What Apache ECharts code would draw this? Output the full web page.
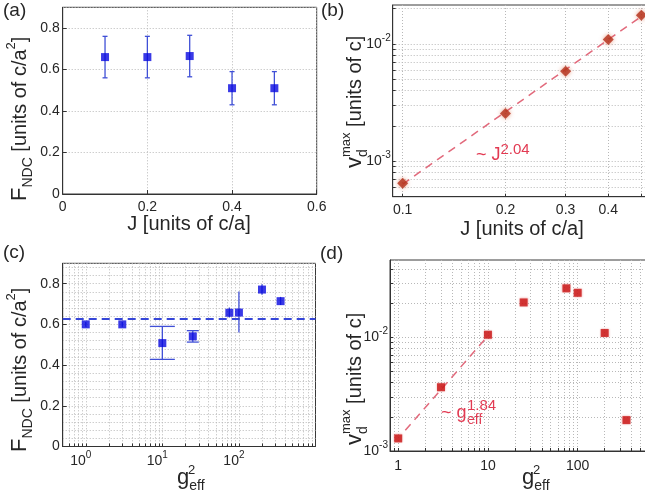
<!DOCTYPE html>
<html><head><meta charset="utf-8">
<script src="https://cdn.jsdelivr.net/npm/echarts@6/dist/echarts.min.js"></script>
<style>html,body{margin:0;padding:0;background:#fff}#c{width:645px;height:498px}</style>
</head><body><div id="c"></div>
<script>
// ---------- data ----------
// (a) F_NDC vs J
const aJ  = [0.1, 0.2, 0.3, 0.4, 0.5];
const aF  = [0.66, 0.66, 0.665, 0.51, 0.51];
const aLo = [0.56, 0.56, 0.565, 0.43, 0.43];
const aHi = [0.76, 0.76, 0.765, 0.59, 0.59];
// (b) v_d^max vs J (log-log)
const bJ = [0.1, 0.2, 0.3, 0.4, 0.5];
const bV = [6.5e-4, 2.56e-3, 5.87e-3, 0.0109, 0.0176];
const bFitJ = [0.1, 0.5];
const bFitV = [6.4e-4, 0.0172];
// (c) F_NDC vs g_eff^2
const cG  = [1, 3, 10, 25, 75, 100, 200, 350];
const cF  = [0.600, 0.600, 0.508, 0.541, 0.657, 0.658, 0.771, 0.714];
const cLo = [0.588, 0.588, 0.428, 0.513, 0.634, 0.560, 0.745, 0.695];
const cHi = [0.612, 0.612, 0.590, 0.569, 0.683, 0.761, 0.797, 0.735];
const cMean = 0.633;
// (d) v_d^max vs g_eff^2
const dG = [1, 3, 10, 25, 75, 100, 200, 350];
const dV = [1.29e-3, 3.64e-3, 0.01056, 0.0203, 0.0270, 0.0247, 0.01094, 1.87e-3];
const dFitG = [1.2, 10];
const dFitV = [1.52e-3, 0.0103];
// tick labels
const aXTicks = [0, 0.2, 0.4, 0.6];
const aYTicks = [0, 0.2, 0.4, 0.6, 0.8];
const bXLabels = [0.1, 0.2, 0.3, 0.4];
const bYLabels = [1e-3, 1e-2];
const cXLabels = [1, 10, 100];
const dXLabels = [1, 10, 100];
const dYLabels = [1e-3, 1e-2];

// ---------- styles ----------
const FONT = 'Liberation Sans';
const TXT = '#262626';
const GRIDC = '#b8b8b8';
const BLUE = '#0808e0';
const BLUE_ERR = '#3f4fd6';
const REDDASH = '#e26a7c';
const ANNO = '#e23a52';

function gridVals(lo, hi) {
  const out = [];
  for (let k = Math.floor(Math.log10(lo)) - 1; k <= Math.ceil(Math.log10(hi)); k++) {
    for (let m = 1; m <= 9; m++) {
      const v = +(m * Math.pow(10, k)).toPrecision(6);
      if (v >= lo * 1.0001 && v <= hi * 0.9999) out.push(v);
    }
  }
  return out;
}
const richTick = {
  b: {fontFamily: FONT, fontSize: 14, lineHeight: 22, color: TXT},
  s: {fontFamily: FONT, fontSize: 10, lineHeight: 12, verticalAlign: 'top', color: TXT}
};
const pow10 = v => '{b|10}{s|' + Math.round(Math.log10(v)) + '}';

const splitLine = {show: true, lineStyle: {color: GRIDC, type: [1, 2], width: 1}};
const axisLine = {show: true, lineStyle: {color: '#333', width: 1}};

function linAxis(gi, min, max, interval, extra) {
  return Object.assign({
    type: 'value', gridIndex: gi, min, max, interval,
    axisLine, splitLine,
    axisTick: {show: true, inside: true, length: 4, lineStyle: {color: '#333'}},
    axisLabel: {fontFamily: FONT, fontSize: 14, color: TXT, margin: 6, showMaxLabel: false},
  }, extra || {});
}
function logAxis(gi, min, max, labels, fmt, labelExtra) {
  return {
    type: 'log', logBase: 10, gridIndex: gi, min, max,
    axisLine, splitLine,
    axisTick: {show: true, inside: true, length: 3, customValues: gridVals(min, max), lineStyle: {color: '#333'}},
    axisLabel: Object.assign({customValues: labels, formatter: fmt, rich: richTick,
      fontFamily: FONT, fontSize: 14, color: TXT}, labelExtra || {}),
    minorTick: {show: false}, minorSplitLine: {show: false}
  };
}
function errBars(xi, xs, lo, hi, caps, color) {
  return {
    type: 'custom', xAxisIndex: xi, yAxisIndex: xi, z: 3, silent: true,
    data: xs.map((x, i) => [x, lo[i], hi[i]]),
    renderItem: (params, api) => {
      const x = api.value(0);
      const p1 = api.coord([x, api.value(1)]);
      const p2 = api.coord([x, api.value(2)]);
      const c = caps[params.dataIndex];
      const st = {stroke: color, lineWidth: 1.3};
      const ch = [{type: 'line', shape: {x1: p1[0], y1: p1[1], x2: p2[0], y2: p2[1]}, style: st}];
      if (c > 0) {
        ch.push({type: 'line', shape: {x1: p1[0] - c, y1: p1[1], x2: p1[0] + c, y2: p1[1]}, style: st});
        ch.push({type: 'line', shape: {x1: p2[0] - c, y1: p2[1], x2: p2[0] + c, y2: p2[1]}, style: st});
      }
      return {type: 'group', children: ch};
    }
  };
}
const pairs = (xs, ys) => xs.map((x, i) => [x, ys[i]]);

const gridBase = {show: true, borderColor: '#3a3a3a', borderWidth: 1, backgroundColor: '#fff', containLabel: false, outerBoundsMode: 'none'};

const richTitle = {
  B: {fontFamily: FONT, fontSize: 22, lineHeight: 30, color: TXT},
  b: {fontFamily: FONT, fontSize: 20, lineHeight: 30, color: TXT},
  sub: {fontFamily: FONT, fontSize: 14, lineHeight: 14, verticalAlign: 'bottom', color: TXT},
  sup: {fontFamily: FONT, fontSize: 13, lineHeight: 14, verticalAlign: 'top', color: TXT}
};
function txt(x, y, text, size, color, extra) {
  return {type: 'text', x, y, silent: true,
    style: Object.assign({text, fontFamily: FONT, fontSize: size, fill: color || TXT}, extra || {})};
}

const option = {
  animation: false,
  backgroundColor: '#fff',
  grid: [
    Object.assign({left: 62.7, top: 7.3, width: 254, height: 186.7}, gridBase),
    Object.assign({left: 392.7, top: 5, width: 257.3, height: 191.7}, gridBase),
    Object.assign({left: 62.7, top: 263.3, width: 252.8, height: 183.2}, gridBase),
    Object.assign({left: 390, top: 260, width: 260, height: 191}, gridBase)
  ],
  xAxis: [
    linAxis(0, 0, 0.6, 0.2, {axisLabel: {fontFamily: FONT, fontSize: 14, color: TXT, margin: 6}}),
    logAxis(1, 0.0935, 0.53, bXLabels, v => String(+v.toFixed(2)), {margin: 6}),
    logAxis(2, 0.5, 1000, cXLabels, pow10, {margin: 4, padding: [0, 10, 0, 0]}),
    logAxis(3, 0.81, 640, dXLabels, v => '{b|' + Math.round(v) + '}', {margin: 4})
  ],
  yAxis: [
    linAxis(0, 0, 0.9, 0.2, {axisLabel: {fontFamily: FONT, fontSize: 14, color: TXT, margin: 3, showMaxLabel: false}}),
    logAxis(1, 5e-4, 0.0215, bYLabels, pow10, {margin: 2}),
    linAxis(2, 0, 0.9, 0.2, {
      axisLabel: {fontFamily: FONT, fontSize: 14, color: TXT, margin: 3, showMaxLabel: false},
      minorTick: {show: false, splitNumber: 5},
      minorSplitLine: {show: true, lineStyle: {color: GRIDC, type: [1, 2], width: 1}}
    }),
    logAxis(3, 1e-3, 0.048, dYLabels, pow10, {margin: 2})
  ],
  series: [
    errBars(0, aJ, aLo, aHi, [2.5, 2.5, 2.5, 2.5, 2.5], BLUE_ERR),
    {type: 'scatter', xAxisIndex: 0, yAxisIndex: 0, symbol: 'rect', symbolSize: 8, z: 4,
      itemStyle: {color: BLUE}, data: pairs(aJ, aF)},

    {type: 'line', xAxisIndex: 1, yAxisIndex: 1, symbol: 'none', z: 2,
      lineStyle: {color: REDDASH, width: 1.5, type: [8, 6]}, data: pairs(bFitJ, bFitV)},
    {type: 'scatter', xAxisIndex: 1, yAxisIndex: 1, symbol: 'diamond', symbolSize: 11, z: 4,
      itemStyle: {color: '#b3301a', shadowBlur: 4, shadowColor: 'rgba(220,90,50,0.7)'}, data: pairs(bJ, bV)},

    errBars(2, cG, cLo, cHi, [0, 0, 12.5, 6, 0, 0, 0, 0], BLUE_ERR),
    {type: 'scatter', xAxisIndex: 2, yAxisIndex: 2, symbol: 'rect', symbolSize: 8, z: 4,
      itemStyle: {color: BLUE}, data: pairs(cG, cF),
      markLine: {silent: true, symbol: 'none', label: {show: false}, animation: false,
        lineStyle: {color: '#3646d8', width: 2, type: [8, 5]}, data: [{yAxis: cMean}]}},

    {type: 'line', xAxisIndex: 3, yAxisIndex: 3, symbol: 'none', z: 2,
      lineStyle: {color: REDDASH, width: 1.5, type: [8, 6]}, data: pairs(dFitG, dFitV)},
    {type: 'scatter', xAxisIndex: 3, yAxisIndex: 3, symbol: 'rect', symbolSize: 8, z: 4,
      itemStyle: {color: '#c81414', shadowBlur: 2, shadowColor: 'rgba(230,80,80,0.6)'}, data: pairs(dG, dV)}
  ],
  graphic: [
    // panel labels
    txt(3, 1, '(a)', 19), txt(321, 1, '(b)', 19), txt(3, 243, '(c)', 19), txt(320, 244, '(d)', 19),
    // x titles
    txt(189, 224, 'J [units of c/a]', 20, TXT, {align: 'center', verticalAlign: 'middle'}),
    txt(522, 229, 'J [units of c/a]', 20, TXT, {align: 'center', verticalAlign: 'middle'}),
    {type: 'group', x: 177, y: 478, silent: true, children: [
      txt(0, 0, '{B|g}{sub|eff}', 20, TXT, {rich: richTitle, verticalAlign: 'middle'}),
      txt(11, -8, '2', 13, TXT, {verticalAlign: 'middle'})
    ]},
    {type: 'group', x: 522, y: 478, silent: true, children: [
      txt(0, 0, '{B|g}{sub|eff}', 20, TXT, {rich: richTitle, verticalAlign: 'middle'}),
      txt(11, -8, '2', 13, TXT, {verticalAlign: 'middle'})
    ]},
    // y titles
    {type: 'group', x: 20, y: 201, rotation: Math.PI / 2, silent: true, children: [
      txt(0, 0, '{B|F}{sub|NDC}{b| [units of c/a}{sup|2}{b|]}', 20, TXT, {rich: richTitle, verticalAlign: 'middle'})
    ]},
    {type: 'group', x: 20, y: 452, rotation: Math.PI / 2, silent: true, children: [
      txt(0, 0, '{B|F}{sub|NDC}{b| [units of c/a}{sup|2}{b|]}', 20, TXT, {rich: richTitle, verticalAlign: 'middle'})
    ]},
    {type: 'group', x: 355, y: 168, rotation: Math.PI / 2, silent: true, children: [
      txt(0, 0, '{B|v}{sup|max}{b| [units of c]}', 20, TXT, {rich: richTitle, verticalAlign: 'middle'}),
      txt(11, 8, 'd', 14, TXT, {verticalAlign: 'middle'})
    ]},
    {type: 'group', x: 355, y: 445, rotation: Math.PI / 2, silent: true, children: [
      txt(0, 0, '{B|v}{sup|max}{b| [units of c]}', 21, TXT, {rich: richTitle, verticalAlign: 'middle'}),
      txt(11, 8, 'd', 14, TXT, {verticalAlign: 'middle'})
    ]},
    // annotations
    txt(476, 155, '{b|~ J}{s|2.04}', 17, ANNO, {verticalAlign: 'middle', rich: {
      b: {fontFamily: FONT, fontSize: 18, lineHeight: 26, color: ANNO},
      s: {fontFamily: FONT, fontSize: 15, lineHeight: 15, verticalAlign: 'top', color: ANNO}}}),
    {type: 'group', x: 441, y: 413, silent: true, children: [
      txt(0, 0, '~ g', 18, ANNO, {verticalAlign: 'middle'}),
      txt(26, 7, 'eff', 14, ANNO, {verticalAlign: 'middle'}),
      txt(26, -7, '1.84', 15, ANNO, {verticalAlign: 'middle'})
    ]}
  ]
};
const chart = echarts.init(document.getElementById('c'), null, {renderer: 'canvas'});
chart.setOption(option);
</script>
</body></html>
